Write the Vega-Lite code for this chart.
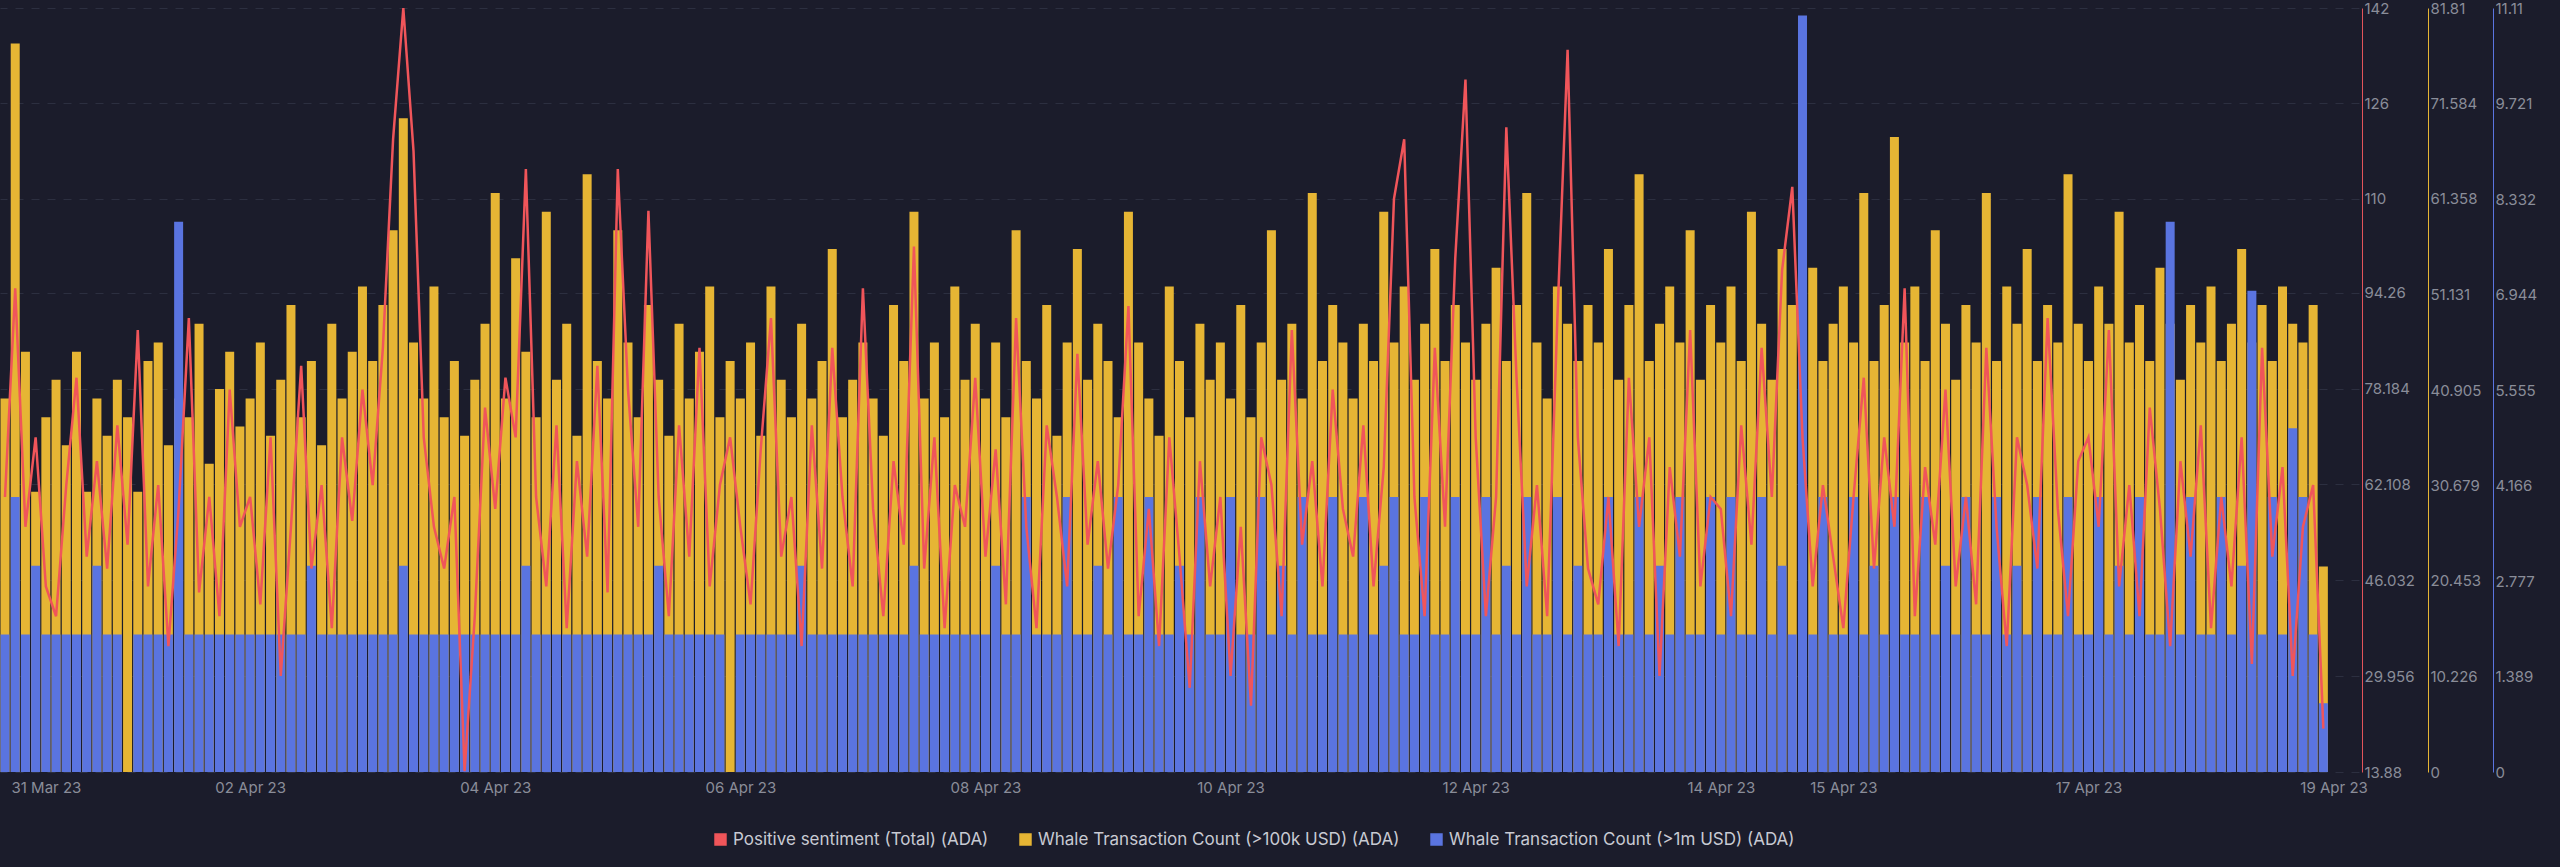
{
  "$schema": "https://vega.github.io/schema/vega-lite/v6.json",
  "width": 2359,
  "height": 764,
  "autosize": "none",
  "padding": {"left": 0, "top": 8, "right": 201, "bottom": 95},
  "background": "#1b1c2b",
  "config": {
    "view": {"stroke": null},
    "axis": {"labelColor": "#8a8d99", "labelFont": "Inter", "labelFontSize": 15, "gridColor": "#2c2f40", "gridDash": [8, 8], "ticks": false, "titleColor": "#8a8d99"},
    "legend": {"labelColor": "#c8cad3", "labelFont": "Inter", "labelFontSize": 17, "labelLimit": 0, "symbolType": "square", "symbolSize": 120, "columnPadding": 28}
  },
  "data": {"values": [
    {"t":"2023-03-31T00:00","p":60,"w":40,"m":2},{"t":"2023-03-31T02:00","p":95,"w":78,"m":4},{"t":"2023-03-31T04:00","p":55,"w":45,"m":2},{"t":"2023-03-31T06:00","p":70,"w":30,"m":3},{"t":"2023-03-31T08:00","p":45,"w":38,"m":2},{"t":"2023-03-31T10:00","p":40,"w":42,"m":2},{"t":"2023-03-31T12:00","p":62,"w":35,"m":2},{"t":"2023-03-31T14:00","p":80,"w":45,"m":2},{"t":"2023-03-31T16:00","p":50,"w":30,"m":2},{"t":"2023-03-31T18:00","p":66,"w":40,"m":3},{"t":"2023-03-31T20:00","p":48,"w":36,"m":2},{"t":"2023-03-31T22:00","p":72,"w":42,"m":2},
    {"t":"2023-04-01T00:00","p":52,"w":38,"m":0},{"t":"2023-04-01T02:00","p":88,"w":30,"m":2},{"t":"2023-04-01T04:00","p":45,"w":44,"m":2},{"t":"2023-04-01T06:00","p":62,"w":46,"m":2},{"t":"2023-04-01T08:00","p":35,"w":35,"m":2},{"t":"2023-04-01T10:00","p":58,"w":40,"m":8},{"t":"2023-04-01T12:00","p":90,"w":38,"m":2},{"t":"2023-04-01T14:00","p":44,"w":48,"m":2},{"t":"2023-04-01T16:00","p":60,"w":33,"m":2},{"t":"2023-04-01T18:00","p":40,"w":41,"m":2},{"t":"2023-04-01T20:00","p":78,"w":45,"m":2},{"t":"2023-04-01T22:00","p":55,"w":37,"m":2},
    {"t":"2023-04-02T00:00","p":60,"w":40,"m":2},{"t":"2023-04-02T02:00","p":42,"w":46,"m":2},{"t":"2023-04-02T04:00","p":70,"w":36,"m":2},{"t":"2023-04-02T06:00","p":30,"w":42,"m":2},{"t":"2023-04-02T08:00","p":55,"w":50,"m":2},{"t":"2023-04-02T10:00","p":82,"w":38,"m":2},{"t":"2023-04-02T12:00","p":48,"w":44,"m":3},{"t":"2023-04-02T14:00","p":62,"w":35,"m":2},{"t":"2023-04-02T16:00","p":38,"w":48,"m":2},{"t":"2023-04-02T18:00","p":70,"w":40,"m":2},{"t":"2023-04-02T20:00","p":56,"w":45,"m":2},{"t":"2023-04-02T22:00","p":78,"w":52,"m":2},
    {"t":"2023-04-03T00:00","p":62,"w":44,"m":2},{"t":"2023-04-03T02:00","p":85,"w":50,"m":2},{"t":"2023-04-03T04:00","p":120,"w":58,"m":2},{"t":"2023-04-03T06:00","p":142,"w":70,"m":3},{"t":"2023-04-03T08:00","p":118,"w":46,"m":2},{"t":"2023-04-03T10:00","p":70,"w":40,"m":2},{"t":"2023-04-03T12:00","p":55,"w":52,"m":2},{"t":"2023-04-03T14:00","p":48,"w":38,"m":2},{"t":"2023-04-03T16:00","p":60,"w":44,"m":2},{"t":"2023-04-03T18:00","p":14,"w":36,"m":2},{"t":"2023-04-03T20:00","p":40,"w":42,"m":2},{"t":"2023-04-03T22:00","p":75,"w":48,"m":2},
    {"t":"2023-04-04T00:00","p":58,"w":62,"m":2},{"t":"2023-04-04T02:00","p":80,"w":40,"m":2},{"t":"2023-04-04T04:00","p":70,"w":55,"m":2},{"t":"2023-04-04T06:00","p":115,"w":45,"m":3},{"t":"2023-04-04T08:00","p":60,"w":38,"m":2},{"t":"2023-04-04T10:00","p":45,"w":60,"m":2},{"t":"2023-04-04T12:00","p":72,"w":42,"m":2},{"t":"2023-04-04T14:00","p":38,"w":48,"m":2},{"t":"2023-04-04T16:00","p":66,"w":36,"m":2},{"t":"2023-04-04T18:00","p":50,"w":64,"m":2},{"t":"2023-04-04T20:00","p":82,"w":44,"m":2},{"t":"2023-04-04T22:00","p":44,"w":40,"m":2},
    {"t":"2023-04-05T00:00","p":115,"w":58,"m":2},{"t":"2023-04-05T02:00","p":78,"w":46,"m":2},{"t":"2023-04-05T04:00","p":55,"w":38,"m":2},{"t":"2023-04-05T06:00","p":108,"w":50,"m":2},{"t":"2023-04-05T08:00","p":60,"w":42,"m":3},{"t":"2023-04-05T10:00","p":40,"w":36,"m":2},{"t":"2023-04-05T12:00","p":72,"w":48,"m":2},{"t":"2023-04-05T14:00","p":50,"w":40,"m":2},{"t":"2023-04-05T16:00","p":85,"w":45,"m":2},{"t":"2023-04-05T18:00","p":45,"w":52,"m":2},{"t":"2023-04-05T20:00","p":62,"w":38,"m":2},{"t":"2023-04-05T22:00","p":70,"w":44,"m":0},
    {"t":"2023-04-06T00:00","p":55,"w":40,"m":2},{"t":"2023-04-06T02:00","p":42,"w":46,"m":2},{"t":"2023-04-06T04:00","p":68,"w":36,"m":2},{"t":"2023-04-06T06:00","p":90,"w":52,"m":2},{"t":"2023-04-06T08:00","p":50,"w":42,"m":2},{"t":"2023-04-06T10:00","p":60,"w":38,"m":2},{"t":"2023-04-06T12:00","p":35,"w":48,"m":3},{"t":"2023-04-06T14:00","p":72,"w":40,"m":2},{"t":"2023-04-06T16:00","p":48,"w":44,"m":2},{"t":"2023-04-06T18:00","p":85,"w":56,"m":2},{"t":"2023-04-06T20:00","p":60,"w":38,"m":2},{"t":"2023-04-06T22:00","p":45,"w":42,"m":2},
    {"t":"2023-04-07T00:00","p":95,"w":46,"m":2},{"t":"2023-04-07T02:00","p":58,"w":40,"m":2},{"t":"2023-04-07T04:00","p":40,"w":36,"m":2},{"t":"2023-04-07T06:00","p":66,"w":50,"m":2},{"t":"2023-04-07T08:00","p":52,"w":44,"m":2},{"t":"2023-04-07T10:00","p":102,"w":60,"m":3},{"t":"2023-04-07T12:00","p":48,"w":40,"m":2},{"t":"2023-04-07T14:00","p":70,"w":46,"m":2},{"t":"2023-04-07T16:00","p":38,"w":38,"m":2},{"t":"2023-04-07T18:00","p":62,"w":52,"m":2},{"t":"2023-04-07T20:00","p":55,"w":42,"m":2},{"t":"2023-04-07T22:00","p":80,"w":48,"m":2},
    {"t":"2023-04-08T00:00","p":50,"w":40,"m":2},{"t":"2023-04-08T02:00","p":68,"w":46,"m":3},{"t":"2023-04-08T04:00","p":42,"w":38,"m":2},{"t":"2023-04-08T06:00","p":90,"w":58,"m":2},{"t":"2023-04-08T08:00","p":55,"w":44,"m":4},{"t":"2023-04-08T10:00","p":38,"w":40,"m":2},{"t":"2023-04-08T12:00","p":72,"w":50,"m":2},{"t":"2023-04-08T14:00","p":60,"w":36,"m":2},{"t":"2023-04-08T16:00","p":45,"w":46,"m":4},{"t":"2023-04-08T18:00","p":84,"w":56,"m":2},{"t":"2023-04-08T20:00","p":52,"w":42,"m":2},{"t":"2023-04-08T22:00","p":66,"w":48,"m":3},
    {"t":"2023-04-09T00:00","p":48,"w":44,"m":2},{"t":"2023-04-09T02:00","p":62,"w":38,"m":4},{"t":"2023-04-09T04:00","p":92,"w":60,"m":2},{"t":"2023-04-09T06:00","p":40,"w":46,"m":2},{"t":"2023-04-09T08:00","p":58,"w":40,"m":4},{"t":"2023-04-09T10:00","p":35,"w":36,"m":2},{"t":"2023-04-09T12:00","p":70,"w":52,"m":2},{"t":"2023-04-09T14:00","p":50,"w":44,"m":3},{"t":"2023-04-09T16:00","p":28,"w":38,"m":2},{"t":"2023-04-09T18:00","p":66,"w":48,"m":4},{"t":"2023-04-09T20:00","p":45,"w":42,"m":2},{"t":"2023-04-09T22:00","p":60,"w":46,"m":2},
    {"t":"2023-04-10T00:00","p":30,"w":40,"m":4},{"t":"2023-04-10T02:00","p":55,"w":50,"m":2},{"t":"2023-04-10T04:00","p":25,"w":38,"m":2},{"t":"2023-04-10T06:00","p":70,"w":46,"m":4},{"t":"2023-04-10T08:00","p":62,"w":58,"m":2},{"t":"2023-04-10T10:00","p":40,"w":42,"m":3},{"t":"2023-04-10T12:00","p":88,"w":48,"m":2},{"t":"2023-04-10T14:00","p":52,"w":40,"m":4},{"t":"2023-04-10T16:00","p":66,"w":62,"m":2},{"t":"2023-04-10T18:00","p":45,"w":44,"m":2},{"t":"2023-04-10T20:00","p":78,"w":50,"m":4},{"t":"2023-04-10T22:00","p":58,"w":46,"m":2},
    {"t":"2023-04-11T00:00","p":50,"w":40,"m":2},{"t":"2023-04-11T02:00","p":72,"w":48,"m":4},{"t":"2023-04-11T04:00","p":45,"w":44,"m":2},{"t":"2023-04-11T06:00","p":65,"w":60,"m":3},{"t":"2023-04-11T08:00","p":110,"w":46,"m":4},{"t":"2023-04-11T10:00","p":120,"w":52,"m":2},{"t":"2023-04-11T12:00","p":60,"w":42,"m":2},{"t":"2023-04-11T14:00","p":40,"w":48,"m":4},{"t":"2023-04-11T16:00","p":85,"w":56,"m":2},{"t":"2023-04-11T18:00","p":55,"w":44,"m":2},{"t":"2023-04-11T20:00","p":100,"w":50,"m":4},{"t":"2023-04-11T22:00","p":130,"w":46,"m":2},
    {"t":"2023-04-12T00:00","p":70,"w":42,"m":2},{"t":"2023-04-12T02:00","p":40,"w":48,"m":4},{"t":"2023-04-12T04:00","p":60,"w":54,"m":2},{"t":"2023-04-12T06:00","p":122,"w":44,"m":3},{"t":"2023-04-12T08:00","p":80,"w":50,"m":2},{"t":"2023-04-12T10:00","p":45,"w":62,"m":4},{"t":"2023-04-12T12:00","p":62,"w":46,"m":2},{"t":"2023-04-12T14:00","p":40,"w":40,"m":2},{"t":"2023-04-12T16:00","p":90,"w":52,"m":4},{"t":"2023-04-12T18:00","p":135,"w":48,"m":2},{"t":"2023-04-12T20:00","p":70,"w":44,"m":3},{"t":"2023-04-12T22:00","p":48,"w":50,"m":2},
    {"t":"2023-04-13T00:00","p":42,"w":46,"m":2},{"t":"2023-04-13T02:00","p":60,"w":56,"m":4},{"t":"2023-04-13T04:00","p":35,"w":42,"m":2},{"t":"2023-04-13T06:00","p":80,"w":50,"m":2},{"t":"2023-04-13T08:00","p":55,"w":64,"m":4},{"t":"2023-04-13T10:00","p":70,"w":44,"m":2},{"t":"2023-04-13T12:00","p":30,"w":48,"m":3},{"t":"2023-04-13T14:00","p":65,"w":52,"m":2},{"t":"2023-04-13T16:00","p":50,"w":46,"m":4},{"t":"2023-04-13T18:00","p":88,"w":58,"m":2},{"t":"2023-04-13T20:00","p":45,"w":42,"m":2},{"t":"2023-04-13T22:00","p":60,"w":50,"m":4},
    {"t":"2023-04-14T00:00","p":58,"w":46,"m":2},{"t":"2023-04-14T02:00","p":40,"w":52,"m":4},{"t":"2023-04-14T04:00","p":72,"w":44,"m":2},{"t":"2023-04-14T06:00","p":52,"w":60,"m":2},{"t":"2023-04-14T08:00","p":85,"w":48,"m":4},{"t":"2023-04-14T10:00","p":60,"w":42,"m":2},{"t":"2023-04-14T12:00","p":98,"w":56,"m":3},{"t":"2023-04-14T14:00","p":112,"w":50,"m":2},{"t":"2023-04-14T16:00","p":70,"w":46,"m":11},{"t":"2023-04-14T18:00","p":45,"w":54,"m":2},{"t":"2023-04-14T20:00","p":62,"w":44,"m":4},{"t":"2023-04-14T22:00","p":50,"w":48,"m":2},
    {"t":"2023-04-15T00:00","p":38,"w":52,"m":2},{"t":"2023-04-15T02:00","p":60,"w":46,"m":4},{"t":"2023-04-15T04:00","p":80,"w":62,"m":2},{"t":"2023-04-15T06:00","p":48,"w":44,"m":3},{"t":"2023-04-15T08:00","p":70,"w":50,"m":2},{"t":"2023-04-15T10:00","p":55,"w":68,"m":4},{"t":"2023-04-15T12:00","p":95,"w":46,"m":2},{"t":"2023-04-15T14:00","p":40,"w":52,"m":2},{"t":"2023-04-15T16:00","p":65,"w":44,"m":4},{"t":"2023-04-15T18:00","p":52,"w":58,"m":2},{"t":"2023-04-15T20:00","p":78,"w":48,"m":3},{"t":"2023-04-15T22:00","p":45,"w":42,"m":2},
    {"t":"2023-04-16T00:00","p":60,"w":50,"m":4},{"t":"2023-04-16T02:00","p":42,"w":46,"m":2},{"t":"2023-04-16T04:00","p":85,"w":62,"m":2},{"t":"2023-04-16T06:00","p":55,"w":44,"m":4},{"t":"2023-04-16T08:00","p":35,"w":52,"m":2},{"t":"2023-04-16T10:00","p":70,"w":48,"m":3},{"t":"2023-04-16T12:00","p":62,"w":56,"m":2},{"t":"2023-04-16T14:00","p":48,"w":44,"m":4},{"t":"2023-04-16T16:00","p":90,"w":50,"m":2},{"t":"2023-04-16T18:00","p":58,"w":46,"m":2},{"t":"2023-04-16T20:00","p":40,"w":64,"m":4},{"t":"2023-04-16T22:00","p":66,"w":48,"m":2},
    {"t":"2023-04-17T00:00","p":70,"w":44,"m":2},{"t":"2023-04-17T02:00","p":55,"w":52,"m":4},{"t":"2023-04-17T04:00","p":88,"w":48,"m":2},{"t":"2023-04-17T06:00","p":45,"w":60,"m":3},{"t":"2023-04-17T08:00","p":62,"w":46,"m":2},{"t":"2023-04-17T10:00","p":40,"w":50,"m":4},{"t":"2023-04-17T12:00","p":75,"w":44,"m":2},{"t":"2023-04-17T14:00","p":58,"w":54,"m":2},{"t":"2023-04-17T16:00","p":35,"w":48,"m":8},{"t":"2023-04-17T18:00","p":66,"w":42,"m":2},{"t":"2023-04-17T20:00","p":50,"w":50,"m":4},{"t":"2023-04-17T22:00","p":72,"w":46,"m":2},
    {"t":"2023-04-18T00:00","p":38,"w":52,"m":2},{"t":"2023-04-18T02:00","p":60,"w":44,"m":4},{"t":"2023-04-18T04:00","p":45,"w":48,"m":2},{"t":"2023-04-18T06:00","p":70,"w":56,"m":3},{"t":"2023-04-18T08:00","p":32,"w":46,"m":7},{"t":"2023-04-18T10:00","p":85,"w":50,"m":2},{"t":"2023-04-18T12:00","p":50,"w":44,"m":4},{"t":"2023-04-18T14:00","p":65,"w":52,"m":2},{"t":"2023-04-18T16:00","p":30,"w":48,"m":5},{"t":"2023-04-18T18:00","p":55,"w":46,"m":4},{"t":"2023-04-18T20:00","p":62,"w":50,"m":2},{"t":"2023-04-18T22:00","p":21.155,"w":22,"m":1}
  ]},
  "encoding": {
    "x": {
      "field": "t", "type": "temporal", "title": null,
      "scale": {"domain": ["2023-03-31T00:00", "2023-04-19T04:00"]},
      "axis": {"format": "%d %b %y", "grid": false, "domain": false, "labelPadding": 8,
        "labelAlign": {"expr": "datum.index === 0 ? 'left' : 'center'"},
        "labelOffset": {"expr": "datum.index === 0 ? 6 : 0"},
        "values": ["2023-03-31T00:00", "2023-04-02T00:00", "2023-04-04T00:00", "2023-04-06T00:00", "2023-04-08T00:00", "2023-04-10T00:00", "2023-04-12T00:00", "2023-04-14T00:00", "2023-04-15T00:00", "2023-04-17T00:00", "2023-04-19T00:00"]}
    },
    "color": {
      "scale": {
        "domain": ["Positive sentiment (Total) (ADA)", "Whale Transaction Count (>100k USD) (ADA)", "Whale Transaction Count (>1m USD) (ADA)"],
        "range": ["#f0555a", "#e6b534", "#5a74e0"]
      },
      "legend": {"orient": "none", "direction": "horizontal", "legendX": 712, "legendY": 823, "title": null}
    }
  },
  "layer": [
    {
      "mark": {"type": "bar", "width": 9},
      "encoding": {
        "y": {"field": "w", "type": "quantitative", "title": null, "scale": {"domain": [0, 81.81], "nice": false},
          "axis": {"orient": "right", "offset": 69, "grid": false, "format": ".5~r", "domainColor": "#e6b534", "values": [0, 10.226, 20.453, 30.679, 40.905, 51.131, 61.358, 71.584, 81.81]}},
        "color": {"datum": "Whale Transaction Count (>100k USD) (ADA)"}
      }
    },
    {
      "mark": {"type": "bar", "width": 9},
      "encoding": {
        "y": {"field": "m", "type": "quantitative", "title": null, "scale": {"domain": [0, 11.11], "nice": false},
          "axis": {"orient": "right", "offset": 134, "grid": false, "format": ".4~r", "domainColor": "#5a74e0", "values": [0, 1.389, 2.777, 4.166, 5.555, 6.944, 8.332, 9.721, 11.11]}},
        "color": {"datum": "Whale Transaction Count (>1m USD) (ADA)"}
      }
    },
    {
      "mark": {"type": "line", "strokeWidth": 2.5, "interpolate": "linear"},
      "encoding": {
        "y": {"field": "p", "type": "quantitative", "title": null, "scale": {"domain": [13.88, 142], "nice": false},
          "axis": {"orient": "right", "offset": 3, "grid": true, "format": ".5~r", "domainColor": "#e2545a", "values": [13.88, 29.956, 46.032, 62.108, 78.184, 94.26, 110, 126, 142]}},
        "color": {"datum": "Positive sentiment (Total) (ADA)"}
      }
    }
  ],
  "resolve": {"scale": {"y": "independent"}}
}
